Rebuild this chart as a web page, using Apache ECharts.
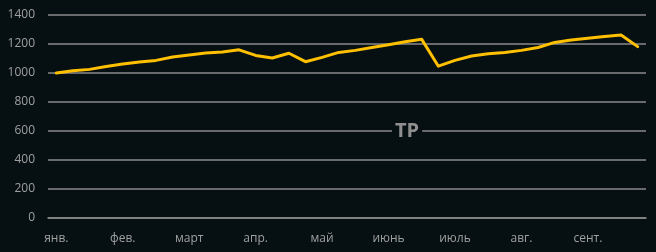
<!DOCTYPE html>
<html>
<head>
<meta charset="utf-8">
<script src="https://cdn.jsdelivr.net/npm/echarts@6/dist/echarts.min.js"></script>
<style>
html,body{margin:0;padding:0;background:#060f12;}
#c{width:656px;height:252px;}
</style>
</head>
<body>
<div id="c"></div>
<script>
const titleText = 'TP';
const weekLabels = [
  'янв.','','','',
  'фев.','','','',
  'март','','','',
  'апр.','','','',
  'май','','','',
  'июнь','','','',
  'июль','','','',
  'авг.','','','',
  'сент.','','',''
];
const values = [
  1000, 1016, 1025, 1045, 1062, 1076, 1087, 1110, 1124, 1138, 1145, 1160,
  1121, 1103, 1136, 1078, 1108, 1142, 1156, 1176, 1195, 1216, 1232, 1047,
  1087, 1117, 1133, 1142, 1156, 1176, 1211, 1228, 1239, 1252, 1262, 1182
];
const yTicks = { min: 0, max: 1400, interval: 200 };

const chart = echarts.init(document.getElementById('c'), null, {renderer: 'canvas'});
chart.setOption({
  backgroundColor: '#060f12',
  animation: false,
  title: {
    text: titleText,
    left: 392,
    top: 119,
    padding: [0, 3],
    backgroundColor: '#060f12',
    textStyle: { color: '#8f8f8f', fontFamily: 'Open Sans', fontWeight: 'bold', fontSize: 20, lineHeight: 24 }
  },
  grid: { left: 48, right: 10, top: 15, bottom: 34, containLabel: false },
  xAxis: {
    type: 'category',
    data: weekLabels,
    boundaryGap: true,
    axisLine: { show: true, lineStyle: { color: '#8a8a8a', width: 1.5 } },
    axisTick: { show: false },
    axisLabel: { interval: 0, color: '#a0a0a0', fontFamily: 'Open Sans', fontSize: 12, margin: 15 },
    splitLine: { show: false }
  },
  yAxis: {
    type: 'value',
    min: yTicks.min, max: yTicks.max, interval: yTicks.interval,
    axisLine: { show: false },
    axisTick: { show: false },
    axisLabel: { color: '#a0a0a0', fontFamily: 'Open Sans', fontSize: 12, margin: 13, formatter: v => String(v) },
    splitLine: { show: true, lineStyle: { color: '#8a8a8a', width: 1.5 } }
  },
  series: [{
    type: 'line',
    data: values,
    symbol: 'none',
    smooth: false,
    lineStyle: { color: '#ffc000', width: 3, join: 'round', cap: 'round' },
    z: 3
  }]
});
</script>
</body>
</html>
